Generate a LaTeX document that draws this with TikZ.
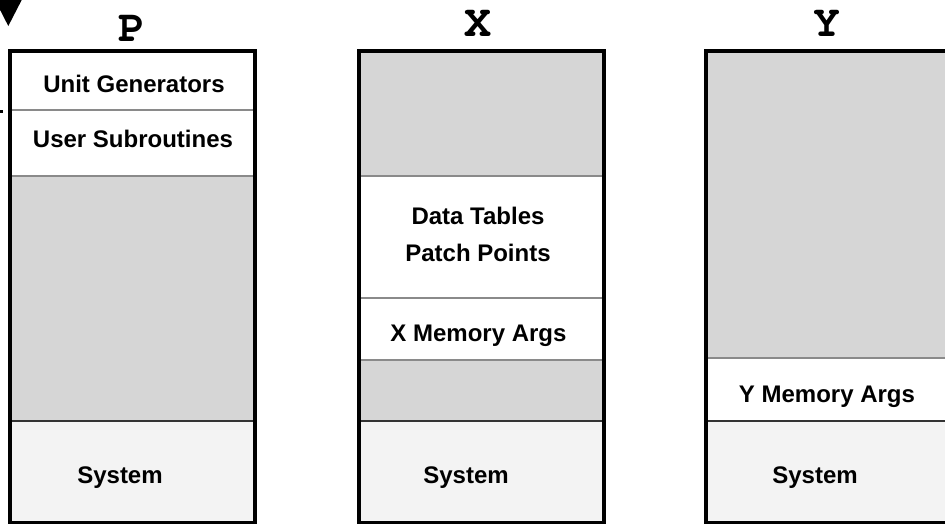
\documentclass[tikz,border=0pt]{standalone}
\usepackage[T1]{fontenc}
\usepackage{fontspec}
\setmainfont{Liberation Sans}
% bold Courier for the bank letters
\newcommand{\bankfont}{\fontencoding{T1}\fontfamily{pcr}\fontseries{b}\fontsize{45}{48}\selectfont}
\definecolor{unusedgrey}{HTML}{D6D6D6}
\definecolor{sysfill}{HTML}{F3F3F3}
\definecolor{divgrey}{HTML}{8A8A8A}
\definecolor{sysdiv}{HTML}{333333}
\begin{document}
\begin{tikzpicture}[x=1pt,y=-1pt,
  unused/.style={fill=unusedgrey},
  sysarea/.style={fill=sysfill},
  divider/.style={draw=divgrey,line width=2pt},
  sysline/.style={draw=sysdiv,line width=2pt},
  frame/.style={draw=black,line width=4pt},
  seg/.style={font=\bfseries\fontsize{24}{28}\selectfont,anchor=base,inner sep=0pt},
  bank/.style={font=\bankfont,anchor=base,inner sep=0pt}]
\useasboundingbox (0,0) rectangle (945,523);
\clip (0,0) rectangle (945,523);

% ---- P memory ----
\fill[unused] (10.3,176) rectangle (255.3,421);
\fill[sysarea] (10.3,421) rectangle (255.3,523);
\draw[divider] (10.3,110) -- (255.3,110);
\draw[divider] (10.3,176) -- (255.3,176);
\draw[sysline] (10.3,421) -- (255.3,421);
\draw[frame] (10.3,51.3) rectangle (255.3,523);
\node[bank] (pname) at (132,41.7) {P};
\node[seg] (ugen) at (134,92) {Unit Generators};
\node[seg] (usub) at (133,147) {User Subroutines};
\node[seg] (psys) at (120,483) {System};

% ---- X memory ----
\fill[unused] (358.7,51.3) rectangle (603.7,176);
\fill[unused] (358.7,360) rectangle (603.7,421);
\fill[sysarea] (358.7,421) rectangle (603.7,523);
\draw[divider] (358.7,176) -- (603.7,176);
\draw[divider] (358.7,298) -- (603.7,298);
\draw[divider] (358.7,360) -- (603.7,360);
\draw[sysline] (358.7,421) -- (603.7,421);
\draw[frame] (358.7,51.3) rectangle (603.7,523);
\node[bank] (xname) at (478,36) {X};
\node[seg] (dtab) at (478,224) {Data Tables};
\node[seg] (ppts) at (478,261) {Patch Points};
\node[seg] (xargs) at (478.5,341) {X Memory Args};
\node[seg] (xsys) at (466,483) {System};

% ---- Y memory ----
\fill[unused] (706,51.3) rectangle (951,358);
\fill[sysarea] (706,421) rectangle (951,523);
\draw[divider] (706,358) -- (951,358);
\draw[sysline] (706,421) -- (951,421);
\draw[frame] (706,51.3) rectangle (951,523);
\node[bank] (yname) at (827,36) {Y};
\node[seg] (yargs) at (827,402) {Y Memory Args};
\node[seg] (ysys) at (815,483) {System};

% ---- marker at the upper left ----
\fill[black] (-5,0) -- (21.7,0) -- (8.3,26) -- cycle;
\draw[black,line width=3pt] (-2,111.5) -- (3,111.5);
\end{tikzpicture}
\end{document}
